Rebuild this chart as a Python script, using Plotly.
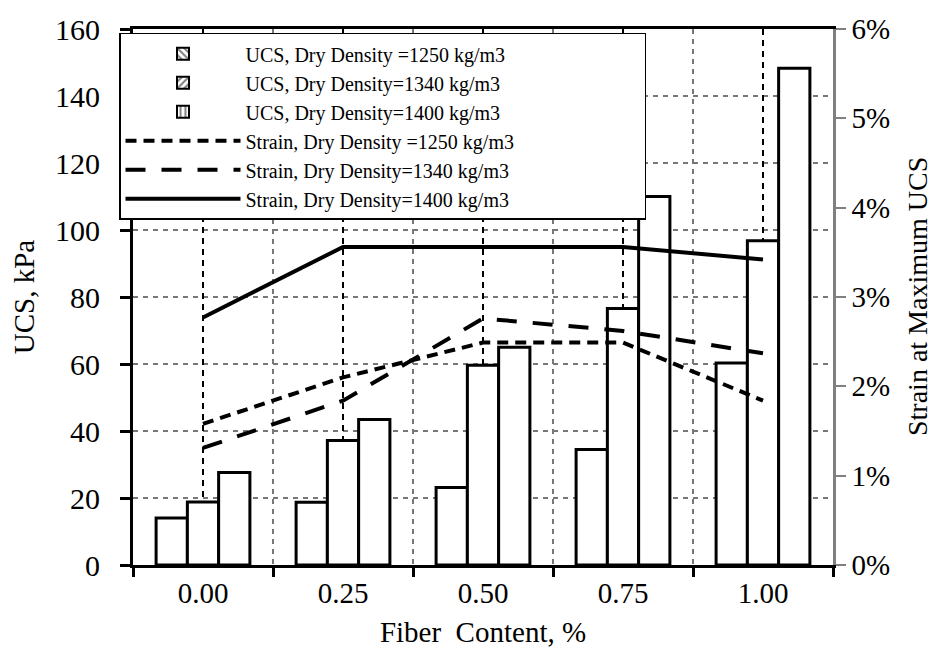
import plotly.graph_objects as go

categories = ["0.00", "0.25", "0.50", "0.75", "1.00"]
ucs_1250 = [14.0, 18.7, 23.1, 34.5, 60.3]
ucs_1340 = [18.8, 37.2, 59.6, 76.6, 96.8]
ucs_1400 = [27.6, 43.4, 65.0, 110.0, 148.3]
strain_1250 = [0.0158, 0.0210, 0.0249, 0.0249, 0.0184]
strain_1340 = [0.0131, 0.0184, 0.0276, 0.0262, 0.0237]
strain_1400 = [0.0277, 0.0356, 0.0356, 0.0356, 0.0342]

bar_names = ["UCS, Dry Density =1250 kg/m3", "UCS, Dry Density=1340 kg/m3", "UCS, Dry Density=1400 kg/m3"]
line_names = ["Strain, Dry Density =1250 kg/m3", "Strain, Dry Density=1340 kg/m3", "Strain, Dry Density=1400 kg/m3"]
patterns = ["\\", "/", "|"]
dashes = ["11px,7px", "20px,16px", "solid"]

FONT = "Liberation Serif, Times New Roman, serif"
PAD = "\u00a0" * 25  # trailing space so the legend box is as wide as the reference

fig = go.Figure()

for name, vals in zip(bar_names, [ucs_1250, ucs_1340, ucs_1400]):
    fig.add_trace(go.Bar(
        x=categories, y=vals, name=name, showlegend=False,
        marker=dict(color="white", line=dict(color="black", width=3)),
        xaxis="x", yaxis="y",
    ))

# legend-only swatches (patterned) on a hidden axis
for name, pat in zip(bar_names, patterns):
    fig.add_trace(go.Bar(
        x=[None], y=[None], name=name + PAD, showlegend=True,
        marker=dict(color="white", line=dict(color="black", width=2),
                    pattern=dict(shape=pat, fgcolor="black", bgcolor="white", size=6, solidity=0.4)),
        xaxis="x3", yaxis="y3",
    ))

for name, vals, d in zip(line_names, [strain_1250, strain_1340, strain_1400], dashes):
    fig.add_trace(go.Scatter(
        x=categories, y=vals, name=name + PAD, mode="lines",
        line=dict(color="black", width=4, dash=d),
        xaxis="x2", yaxis="y2",
    ))

fig.update_layout(
    width=939, height=658,
    margin=dict(l=125, r=114, t=21, b=101),
    paper_bgcolor="white", plot_bgcolor="white",
    font=dict(family=FONT, color="black", size=24),
    barmode="group", bargap=0.33, bargroupgap=0,
    showlegend=True,
    legend=dict(x=-0.02, y=0.993, xanchor="left", yanchor="top",
                bgcolor="white", bordercolor="black", borderwidth=1.5,
                font=dict(size=20, family=FONT), itemwidth=115,
                tracegroupgap=0),
    xaxis=dict(type="category", categoryorder="array", categoryarray=categories,
               range=[-0.5, 4.5], tickson="boundaries", automargin=False,
               showline=True, linecolor="black", linewidth=3, mirror=True,
               ticks="outside", ticklen=9, tickwidth=2.5, tickcolor="black",
               showgrid=True, gridcolor="#777777", griddash="5px,5px", gridwidth=1.5,
               tickfont=dict(size=29), ticklabelstandoff=0,
               title=dict(text="Fiber  Content, %", font=dict(size=29), standoff=14)),
    yaxis=dict(range=[0, 160], tickvals=[0, 20, 40, 60, 80, 100, 120, 140, 160],
               automargin=False,
               showline=True, linecolor="black", linewidth=3,
               ticks="outside", ticklen=10, tickwidth=2.5, tickcolor="black",
               showgrid=True, gridcolor="#777777", griddash="5px,5px", gridwidth=1.5,
               zeroline=False, tickfont=dict(size=30), ticklabelstandoff=14,
               title=dict(text="UCS, kPa", font=dict(size=29), standoff=14)),
    xaxis2=dict(type="category", categoryorder="array", categoryarray=categories,
                range=[-0.5, 4.5], overlaying="x", showticklabels=False, ticks="",
                showgrid=True, gridcolor="black", griddash="6px,5px", gridwidth=1.5,
                showline=False, zeroline=False, automargin=False),
    yaxis2=dict(range=[0, 0.06], overlaying="y", side="right", tickformat=".0%",
                tickvals=[0, 0.01, 0.02, 0.03, 0.04, 0.05, 0.06], automargin=False,
                showline=True, linecolor="#808080", linewidth=2.5,
                ticks="outside", ticklen=10, tickwidth=2, tickcolor="#808080",
                showgrid=False, zeroline=False, tickfont=dict(size=29), ticklabelstandoff=0),
    xaxis3=dict(visible=False, overlaying="x", range=[0, 1]),
    yaxis3=dict(visible=False, overlaying="y", range=[0, 1]),
    annotations=[dict(text="Strain at Maximum UCS", xref="paper", yref="paper",
                      x=1.12, y=0.5, xanchor="center", yanchor="middle",
                      textangle=-90, showarrow=False, font=dict(size=28, family=FONT))],
)

fig.write_html("out.html")
